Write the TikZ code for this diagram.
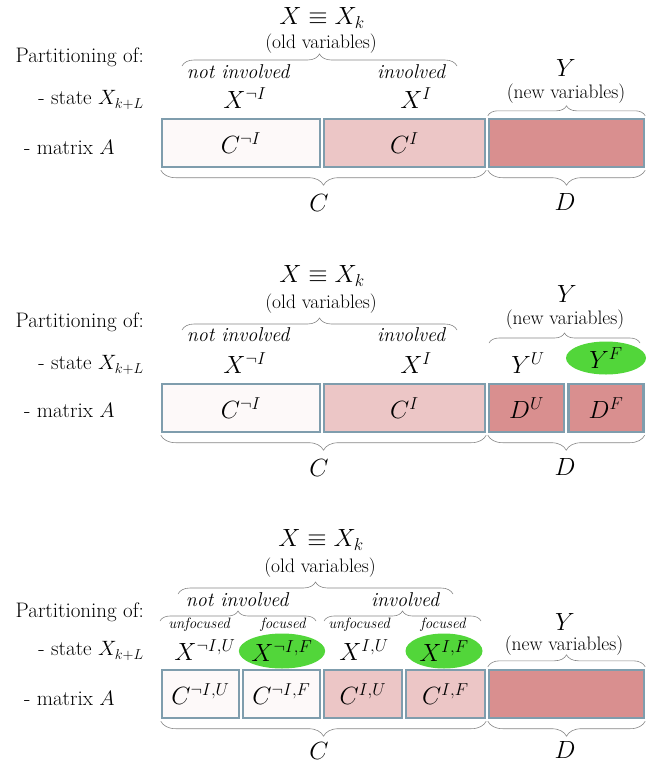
\documentclass[tikz,border=0pt]{standalone}
\usepackage{tikz}
\usetikzlibrary{positioning,shapes.geometric,decorations.pathreplacing}
\definecolor{BoxLine}{HTML}{7F9DAD}
\definecolor{PaleFill}{HTML}{FDF9F9}
\definecolor{PinkFill}{HTML}{ECC6C6}
\definecolor{RoseFill}{HTML}{D98F8F}
\definecolor{FocusGreen}{HTML}{52D63A}
\definecolor{BraceGray}{HTML}{858585}

\begin{document}
\begin{tikzpicture}[x=1pt,y=-1pt,
  cell/.style={draw=BoxLine,line width=2.4pt,inner sep=0pt,minimum height=48pt,font=\fontsize{26}{30}\selectfont},
  mlab/.style={inner sep=0pt,font=\fontsize{26}{30}\selectfont},
  head/.style={inner sep=0pt,font=\fontsize{27}{31}\selectfont},
  side/.style={inner sep=0pt,anchor=west,font=\fontsize{21}{24}\selectfont},
  note/.style={inner sep=0pt,font=\fontsize{19.5}{22}\selectfont},
  tag/.style={inner sep=0pt,font=\itshape\fontsize{20}{22}\selectfont},
  subtag/.style={inner sep=0pt,font=\itshape\fontsize{15}{17}\selectfont},
  focus/.style={ellipse,fill=FocusGreen,inner sep=0pt,minimum width=79pt,minimum height=35pt,font=\fontsize{26}{30}\selectfont},
  brc/.style={decorate,decoration={brace,amplitude=#1},draw=BraceGray,line width=0.6pt},
  brc/.default=12pt
]
\useasboundingbox (0,0) rectangle (665,766);

% first partition
\node[head] (eqa) at (322,18) {$X\equiv X_k$};
\node[note] (olda) at (321,44) {(old variables)};
\coordinate (oa1) at (182,66);
\coordinate (oa2) at (457,66);
\draw[brc] (oa1) -- (oa2);
\node[side,anchor=east] (parta) at (144,57) {Partitioning of:};
\node[tag] (nina) at (238,72) {not involved};
\node[tag] (ina) at (411,72) {involved};
\node[side,anchor=east] (statea) at (144,100) {- state $X_{k+L}$};
\node[mlab] (xna) at (245,98) {$X^{\neg I}$};
\node[mlab] (xia) at (416,98) {$X^{I}$};
\node[mlab] (ya) at (566,68) {$Y$};
\node[note] (newa) at (566,94) {(new variables)};
\node[side] (mata) at (24,147) {- matrix $A$};
\node[cell,fill=PaleFill,minimum width=158pt] (cna) at (241,143) {$C^{\neg I}$};
\node[cell,fill=PinkFill,minimum width=161pt] (cia) at (404.5,143) {$C^{I}$};
\node[cell,fill=RoseFill,minimum width=155pt] (da) at (566.5,143) {};
\draw[brc=10pt] ([yshift=2pt]da.north west) -- ([yshift=2pt]da.north east);
\draw[brc=15pt] ([yshift=-2pt]cia.south east) -- ([yshift=-2pt]cna.south west);
\draw[brc=15pt] ([yshift=-2pt]da.south east) -- ([yshift=-2pt]da.south west);
\node[mlab] (ca) at (319,203) {$C$};
\node[mlab] (dla) at (565,202) {$D$};

% second partition
\node[head] (eqb) at (322,276) {$X\equiv X_k$};
\node[note] (oldb) at (321,304) {(old variables)};
\coordinate (ob1) at (182,330);
\coordinate (ob2) at (457,330);
\draw[brc] (ob1) -- (ob2);
\node[side,anchor=east] (partb) at (144,322) {Partitioning of:};
\node[tag] (ninb) at (238,335) {not involved};
\node[tag] (inb) at (411,335) {involved};
\node[mlab] (yb) at (567,294) {$Y$};
\node[note] (newb) at (565,320) {(new variables)};
\coordinate (nb1) at (489,343);
\coordinate (nb2) at (640,343);
\draw[brc=10pt] (nb1) -- (nb2);
\node[side,anchor=east] (stateb) at (144,365) {- state $X_{k+L}$};
\node[mlab] (xnb) at (245,363) {$X^{\neg I}$};
\node[mlab] (xib) at (416,363) {$X^{I}$};
\node[mlab] (yub) at (528,363) {$Y^{U}$};
\node[focus,minimum width=80pt,minimum height=33pt] (yfb) at (606,358) {$Y^{F}$};
\node[side] (matb) at (24,410) {- matrix $A$};
\node[cell,fill=PaleFill,minimum width=158pt] (cnb) at (241,408) {$C^{\neg I}$};
\node[cell,fill=PinkFill,minimum width=161pt] (cib) at (404.5,408) {$C^{I}$};
\node[cell,fill=RoseFill,minimum width=75pt] (dub) at (526.5,408) {$D^{U}$};
\node[cell,fill=RoseFill,minimum width=75pt] (dfb) at (606,408) {$D^{F}$};
\draw[brc=15pt] ([yshift=-2pt]cib.south east) -- ([yshift=-2pt]cnb.south west);
\draw[brc=15pt] ([yshift=-2pt]dfb.south east) -- ([yshift=-2pt]dub.south west);
\node[mlab] (cb) at (319,468) {$C$};
\node[mlab] (dlb) at (565,467) {$D$};

% third partition
\node[head] (eqc) at (321,540) {$X\equiv X_k$};
\node[note] (oldc) at (320,568) {(old variables)};
\coordinate (oc1) at (178,594);
\coordinate (oc2) at (453,594);
\draw[brc] (oc1) -- (oc2);
\node[tag] (ninc) at (237,600) {not involved};
\node[tag] (inc) at (405,600) {involved};
\coordinate (lc1) at (160,621);
\coordinate (lc2) at (316,621);
\coordinate (rc1) at (324,621);
\coordinate (rc2) at (481,621);
\draw[brc=10pt] (lc1) -- (lc2);
\draw[brc=10pt] (rc1) -- (rc2);
\node[side,anchor=east] (partc) at (144,612) {Partitioning of:};
\node[subtag] (unc1) at (199,625) {unfocused};
\node[subtag] (foc1) at (283,625) {focused};
\node[subtag] (unc2) at (359,625) {unfocused};
\node[subtag] (foc2) at (443,625) {focused};
\node[mlab] (yc) at (565,622) {$Y$};
\node[note] (newc) at (564,646) {(new variables)};
\node[side,anchor=east] (statec) at (144,651) {- state $X_{k+L}$};
\node[mlab] (xnuc) at (205,650) {$X^{\neg I,U}$};
\node[focus] (xnfc) at (282,651) {$X^{\neg I,F}$};
\node[mlab] (xiuc) at (364,650) {$X^{I,U}$};
\node[focus,minimum width=77pt] (xifc) at (444,651) {$X^{I,F}$};
\node[side] (matc) at (24,698) {- matrix $A$};
\node[cell,fill=PaleFill,minimum width=77pt] (cnuc) at (200.5,694) {$C^{\neg I,U}$};
\node[cell,fill=PaleFill,minimum width=77pt] (cnfc) at (281.5,694) {$C^{\neg I,F}$};
\node[cell,fill=PinkFill,minimum width=78pt] (ciuc) at (363,694) {$C^{I,U}$};
\node[cell,fill=PinkFill,minimum width=79pt] (cifc) at (445.5,694) {$C^{I,F}$};
\node[cell,fill=RoseFill,minimum width=155pt] (dc) at (566.5,694) {};
\draw[brc=12pt] ([yshift=2pt]dc.north west) -- ([yshift=2pt]dc.north east);
\draw[brc=15pt] ([yshift=-2pt]cifc.south east) -- ([yshift=-2pt]cnuc.south west);
\draw[brc=15pt] ([yshift=-2pt]dc.south east) -- ([yshift=-2pt]dc.south west);
\node[mlab] (cc) at (319,751) {$C$};
\node[mlab] (dlc) at (565,750) {$D$};
\end{tikzpicture}
\end{document}
